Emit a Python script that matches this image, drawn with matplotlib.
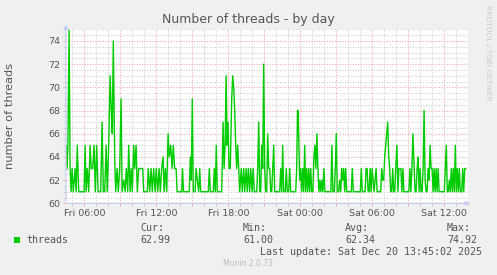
import pandas as pd
import matplotlib
matplotlib.use("Agg")
import matplotlib.pyplot as plt
import matplotlib.dates as mdates
from matplotlib.patches import Rectangle
from matplotlib.ticker import MultipleLocator, FuncFormatter

# munin "threads" plugin, day view: minutes after Fri 2025-12-19 04:30 -> thread count
minutes = [0, 4, 8, 14, 19, 24, 29, 35, 44, 49, 55, 62, 89, 94, 99, 105, 112, 119, 125, 132,
           139, 145, 152, 159, 172, 179, 185, 192, 199, 205, 212, 219, 225, 230, 235, 242, 247, 254, 260, 267,
           274, 279, 287, 294, 300, 307, 312, 319, 325, 330, 337, 342, 349, 355, 362, 369, 382, 387, 405, 410,
           417, 424, 430, 437, 444, 450, 457, 464, 470, 477, 484, 489, 495, 502, 509, 515, 522, 529, 535, 542,
           549, 554, 577, 581, 586, 615, 620, 625, 630, 635, 644, 649, 655, 662, 667, 672, 710, 715, 720, 735,
           740, 745, 750, 755, 777, 784, 789, 794, 799, 804, 809, 814, 820, 827, 832, 837, 842, 847, 852, 857,
           862, 867, 875, 880, 887, 892, 899, 905, 910, 917, 922, 929, 934, 940, 952, 957, 962, 967, 972, 977,
           982, 987, 992, 997, 1002, 1007, 1012, 1017, 1022, 1027, 1032, 1037, 1042, 1067, 1072, 1077, 1082, 1087, 1095, 1100,
           1105, 1112, 1117, 1122, 1147, 1152, 1156, 1159, 1163, 1167, 1172, 1177, 1182, 1187, 1192, 1197, 1202, 1207, 1212, 1217,
           1222, 1227, 1233, 1238, 1243, 1248, 1253, 1258, 1263, 1268, 1273, 1278, 1283, 1288, 1293, 1323, 1328, 1333, 1340, 1345,
           1350, 1355, 1362, 1367, 1372, 1377, 1382, 1387, 1392, 1397, 1402, 1425, 1430, 1435, 1470, 1475, 1480, 1494, 1499, 1504,
           1509, 1514, 1519, 1524, 1529, 1534, 1539, 1544, 1549, 1554, 1572, 1577, 1582, 1587, 1592, 1597, 1602, 1607, 1612, 1617,
           1622, 1627, 1632, 1637, 1642, 1647, 1653, 1658, 1663, 1668, 1673, 1678, 1683, 1688, 1713, 1718, 1723, 1728, 1733, 1744,
           1749, 1754, 1759, 1764, 1769, 1774, 1779, 1784, 1789, 1794, 1799, 1804, 1809, 1814, 1819, 1824, 1829, 1834, 1839, 1844,
           1849, 1854, 1859, 1864, 1890, 1895, 1900, 1905, 1910, 1915, 1920, 1925, 1930, 1935, 1940, 1945, 1950, 1955, 1960, 1965,
           1970, 1977, 1982, 1987, 1992, 1997]
threads = [65, 63, 65, 74.92, 63, 61, 63, 61, 63, 61, 65, 61, 61, 65, 61, 63, 61, 65, 63, 63,
           65, 61, 65, 61, 61, 67, 61, 61, 65, 61, 65, 71, 68, 66, 74, 64, 61, 63, 61, 63,
           69, 61, 62, 61, 63, 61, 65, 61, 63, 61, 65, 63, 65, 61, 63, 63, 63, 61, 61, 63,
           61, 63, 61, 63, 61, 63, 61, 63, 61, 63, 64, 61, 63, 61, 66, 64, 65, 63, 65, 63,
           63, 61, 61, 63, 61, 61, 64, 62, 69, 61, 61, 63, 62, 61, 63, 61, 61, 63, 61, 61,
           63, 61, 65, 61, 61, 67, 63, 65, 71, 65, 67, 63, 63, 69, 71, 70, 68, 65, 63, 65,
           63, 61, 63, 61, 63, 61, 63, 61, 63, 61, 63, 61, 63, 61, 61, 63, 67, 61, 61, 65,
           63, 72, 63, 61, 61, 66, 63, 63, 61, 61, 63, 65, 61, 61, 63, 61, 65, 61, 61, 63,
           61, 61, 63, 61, 61, 63, 68, 68, 65, 62, 63, 61, 63, 61, 65, 61, 63, 61, 63, 61,
           63, 61, 61, 64, 65, 63, 66, 63, 61, 62, 61, 62, 61, 63, 61, 61, 65, 61, 61, 63,
           66, 61, 61, 62, 61, 63, 62, 63, 61, 63, 61, 61, 63, 61, 61, 63, 61, 61, 63, 63,
           61, 61, 63, 61, 63, 62, 61, 62, 63, 61, 61, 63, 62, 62, 64, 65, 66, 67, 64, 63,
           61, 61, 63, 61, 61, 63, 65, 61, 63, 63, 63, 61, 63, 61, 61, 63, 61, 63, 66, 61,
           61, 63, 64, 61, 63, 61, 61, 63, 68, 62, 61, 61, 63, 62, 65, 63, 63, 61, 63, 61,
           63, 61, 63, 61, 61, 63, 65, 61, 61, 62, 61, 63, 61, 63, 61, 65, 61, 63, 61, 63,
           61, 61, 63, 61, 63, 62.99]

start = pd.Timestamp("2025-12-19 04:30")
x_from = pd.Timestamp("2025-12-19 04:28:30")
x_to = pd.Timestamp("2025-12-20 14:00")
legend_stats = [("Cur:", "62.99"), ("Min:", "61.00"), ("Avg:", "62.34"), ("Max:", "74.92")]

W, H = 497, 275
txt = "#555555"
axis_col = "#c8cdf0"
grid_minor = "#cfcfcf"
grid_major = "#f0a8a8"

times = start + pd.to_timedelta(minutes, unit="m")

fig = plt.figure(figsize=(W / 100, H / 100), dpi=100, facecolor="#f0f0f0")
ax = fig.add_axes([66 / W, 1 - 203.3 / H, 402.3 / W, 174 / H], facecolor="white")

ax.plot(times, threads, color="#00cc00", lw=1.0, zorder=3)

ax.set_xlim(x_from, x_to)
ax.set_ylim(60, 75)

ax.xaxis.set_major_locator(mdates.HourLocator(byhour=range(0, 24, 3)))
ax.xaxis.set_minor_locator(mdates.HourLocator())
ax.xaxis.set_major_formatter(FuncFormatter(
    lambda v, pos: mdates.num2date(v).strftime("%a %H:%M") if mdates.num2date(v).hour % 6 == 0 else ""))
ax.yaxis.set_major_locator(MultipleLocator(2))
ax.yaxis.set_minor_locator(MultipleLocator(0.5))

ax.grid(which="minor", color=grid_minor, lw=0.75, linestyle=(0, (1, 1.5)), zorder=0)
ax.grid(which="major", color=grid_major, lw=0.75, linestyle=(0, (1, 1.5)), zorder=1)
ax.set_axisbelow(True)

for s in ax.spines.values():
    s.set_visible(False)
ax.tick_params(which="both", length=2, width=0.7, labelsize=6.8, labelcolor=txt, pad=2)
ax.tick_params(which="major", color=grid_major)
ax.tick_params(which="minor", color=grid_minor)

# rrdtool style axes with arrow heads
ax.annotate("", xy=(0, 1.045), xytext=(0, -0.005), xycoords="axes fraction",
            arrowprops=dict(arrowstyle="-|>", color=axis_col, lw=0.9, mutation_scale=7))
ax.annotate("", xy=(1.012, 0), xytext=(-0.005, 0), xycoords="axes fraction",
            arrowprops=dict(arrowstyle="-|>", color=axis_col, lw=0.9, mutation_scale=7))

ax.set_ylabel("number of threads", fontsize=8.2, color=txt)
ax.yaxis.set_label_coords(-(66 - 15.5) / 402.3, 0.5)

fig.text(248 / W, 1 - 19 / H, "Number of threads - by day", ha="center", va="center",
         fontsize=9, color=txt)
fig.text(488 / W, 1 - 5 / H, "RRDTOOL / TOBI OETIKER", rotation=270, ha="center", va="top",
         fontsize=5.4, color="#c8c8c8")

mono = dict(family="DejaVu Sans Mono", fontsize=7.2, color=txt, va="center")
fig.patches.append(Rectangle((14 / W, 1 - 242.5 / H), 6 / W, 6 / H, transform=fig.transFigure,
                             facecolor="#00cc00", edgecolor="none"))
fig.text(26 / W, 1 - 240 / H, "threads", **mono)
for (head, val), px in zip(legend_stats, [140, 243, 345, 447]):
    fig.text(px / W, 1 - 228 / H, head, **mono)
    fig.text(px / W, 1 - 240 / H, val, **mono)
fig.text(482 / W, 1 - 252 / H, "Last update: Sat Dec 20 13:45:02 2025", ha="right", **mono)
fig.text(248 / W, 1 - 264 / H, "Munin 2.0.73", ha="center", va="center", fontsize=5.5, color="#bbbbbb")

fig.savefig("out.png", dpi=100, facecolor=fig.get_facecolor())
